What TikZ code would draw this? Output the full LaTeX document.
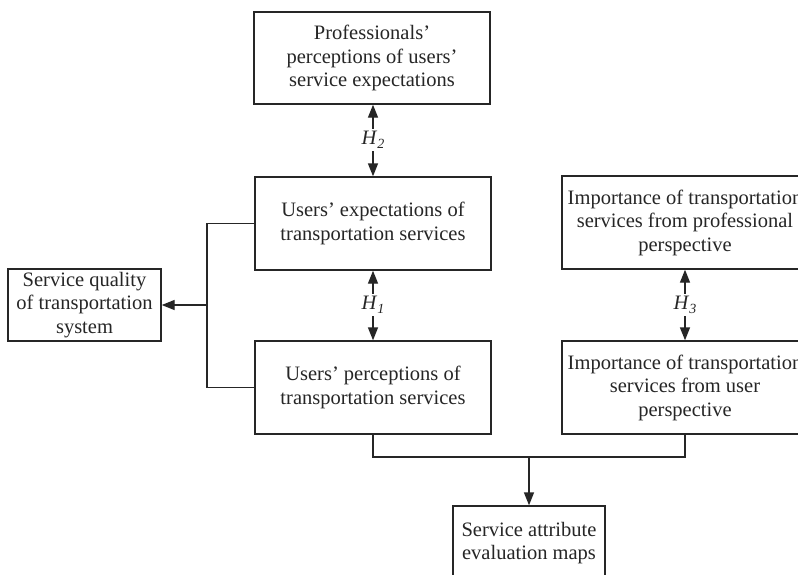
\documentclass[tikz,border=0pt]{standalone}
\usepackage{fontspec}
\setmainfont{Liberation Serif}
\usetikzlibrary{arrows.meta}
\tikzset{
  box/.style={draw=black!85, line width=1.4pt, align=center, inner sep=0pt,
    font=\fontsize{20.5}{23.5}\selectfont, text=black!85},
  conn/.style={draw=black!85, line width=1.4pt},
  arr/.style={conn, -{Triangle[length=13pt,width=10pt]}},
  hlab/.style={inner sep=2pt, font=\fontsize{20.5}{22}\selectfont, text=black!85}
}
\newcommand{\hyp}[1]{\textit{H}\raisebox{-0.45ex}{\fontsize{14}{14}\selectfont\textit{#1}}}
\begin{document}
\begin{tikzpicture}[x=1pt,y=-1pt]
\useasboundingbox (0,0) rectangle (798,574);
\clip (0,0) rectangle (798,574);
\fill[white] (0,0) rectangle (798,574);

\node[box, minimum width=236pt, minimum height=92pt] (top) at (372,58)
  {Professionals’\\perceptions of users’\\service expectations};
\node[box, minimum width=236pt, minimum height=93pt] (exp) at (373,223.5)
  {Users’ expectations of\\transportation services};
\node[box, minimum width=236pt, minimum height=93pt] (perc) at (373,387.5)
  {Users’ perceptions of\\transportation services};
\node[box, minimum width=153pt, minimum height=72pt] (sq) at (84.5,305)
  {Service quality\\of transportation\\system};
\node[box, minimum width=246pt, minimum height=93pt] (impP) at (685,222.5)
  {Importance of transportation\\services from professional\\perspective};
\node[box, minimum width=246pt, minimum height=93pt] (impU) at (685,387.5)
  {Importance of transportation\\services from user\\perspective};
\node[box, minimum width=152pt, minimum height=74pt] (map) at (529,543)
  {Service attribute\\evaluation maps};

% H labels
\node[hlab] (h2) at (373,140) {\hyp{2}};
\node[hlab] (h1) at (373,305) {\hyp{1}};
\node[hlab] (h3) at (685,305) {\hyp{3}};

\draw[arr] (h2.north) -- (h2.north |- top.south);
\draw[arr] (h2.south) -- (h2.south |- exp.north);
\draw[arr] (h1.north) -- (h1.north |- exp.south);
\draw[arr] (h1.south) -- (h1.south |- perc.north);
\draw[arr] (h3.north) -- (h3.north |- impP.south);
\draw[arr] (h3.south) -- (h3.south |- impU.north);

% left junction
\coordinate (jl) at (207,305);
\draw[conn] (exp.west) -| (jl) |- (perc.west);
\draw[arr] (jl) -- (sq.east);

% bottom junction
\coordinate (jb) at (529,457);
\draw[conn] (perc.south) -- (perc.south |- jb) -- (impU.south |- jb) -- (impU.south);
\draw[arr] (jb) -- (map.north);
\end{tikzpicture}
\end{document}
